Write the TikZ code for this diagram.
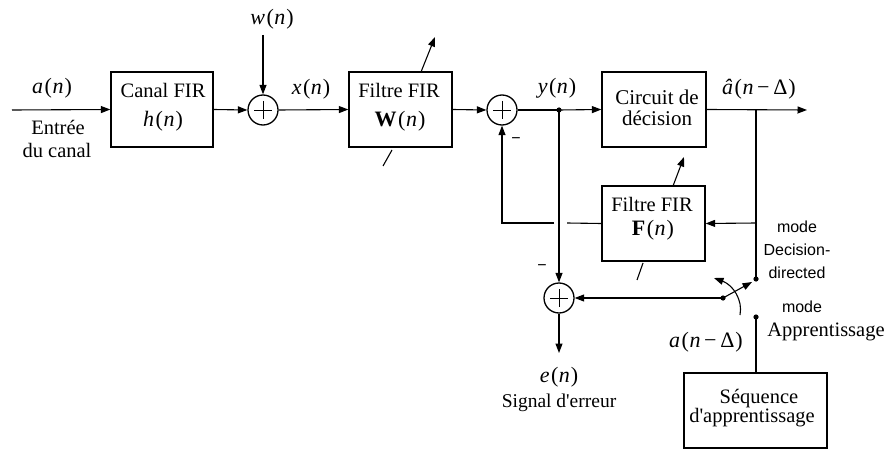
\documentclass[tikz,border=0pt]{standalone}
\usepackage{fontspec}
\setmainfont{Liberation Serif}
\newfontfamily\sansf{Liberation Sans}
\usetikzlibrary{arrows.meta}
\newcommand\vi[1]{\textit{#1}}
\newcommand\pa[1]{\kern1.5pt(\kern0.5pt#1\kern1pt)}
\begin{document}
\begin{tikzpicture}[x=1pt,y=-1pt, line width=1.1pt,
  box/.style={draw, line width=1.3pt, minimum width=#1, minimum height=75pt, inner sep=0pt},
  sumc/.style={draw, circle, minimum size=30pt, inner sep=0pt, line width=1.3pt},
  txt/.style={inner sep=0pt, font=\fontsize{20.5}{22}\selectfont},
  mth/.style={inner sep=0pt, font=\fontsize{22}{24}\selectfont},
  slbl/.style={inner sep=0pt, font=\sansf\fontsize{16}{18}\selectfont},
  >={Triangle[length=9.5pt,width=7pt]}]
\useasboundingbox (0,0) rectangle (893,449);

% boxes
\node[box=102pt] (canal) at (162,109.5) {};
\node[box=103pt] (wbox) at (400.5,109.5) {};
\node[box=104pt] (circ) at (654,109.5) {};
\node[box=103pt] (fbox) at (653.5,223.5) {};
\node[box=143pt] (seq) at (755.5,410.5) {};

% texts in boxes
\node[txt] (canalt1) at (163,90) {Canal FIR};
\node[mth] (canalt2) at (163,121) {\vi{h}\pa{\vi{n}}};
\node[txt] (wt1) at (399,90) {Filtre FIR};
\node[mth] (wt2) at (400,121) {\textbf{W}\pa{\vi{n}}};
\node[txt, font=\fontsize{21}{22}\selectfont] (ct1) at (657,97) {Circuit de};
\node[txt, font=\fontsize{21}{22}\selectfont] (ct2) at (657,118) {décision};
\node[txt] (ft1) at (652,204) {Filtre FIR};
\node[mth] (ft2) at (653,230) {\textbf{F}\pa{\vi{n}}};
\node[txt] (st1) at (759,399) {Séquence};
\node[txt] (st2) at (752,418) {d\textquotesingle apprentissage};

% summers
\node[sumc] (s1) at (263,110) {};
\node[sumc] (s2) at (502,110) {};
\node[sumc] (s3) at (559,298) {};
\foreach \s in {s1,s2,s3}
  \draw[line width=0.8pt] (\s.center) ++(-9,0) -- ++(18,0) (\s.center) ++(0,-9) -- ++(0,18);

% labels
\node[mth] (an) at (52,88) {\vi{a}\pa{\vi{n}}};
\node[txt] (entree) at (58,127) {Entrée};
\node[txt] (ducanal) at (57,150) {du canal};
\node[mth] (wn) at (272,19) {\vi{w}\pa{\vi{n}}};
\node[mth] (xn) at (311,89) {\vi{x}\pa{\vi{n}}};
\node[mth] (yn) at (557,88) {\vi{y}\pa{\vi{n}}};
\node[mth] (ahat) at (759,89) {\vi{â}\pa{\vi{n}\,−\,Δ}};
\node[mth] (en) at (559,377) {\vi{e}\pa{\vi{n}}};
\node[txt, font=\fontsize{19.5}{22}\selectfont] (sig) at (559,403) {Signal d\textquotesingle erreur};
\node[mth] (adel) at (706,342) {\vi{a}\pa{\vi{n}\,−\,Δ}};
\node[slbl] (mode1) at (797,227) {mode};
\node[slbl] (dec1) at (797,250) {Decision-};
\node[slbl] (dir1) at (797,273) {directed};
\node[slbl] (mode2) at (802,307) {mode};
\node[txt] (appr) at (826,332) {Apprentissage};
\node[slbl] (min2) at (516,141) {−};
\node[slbl] (min3) at (542,268) {−};

% coordinates
\coordinate (in) at (12,110);
\coordinate (wtop) at (263,35);
\coordinate (yj) at (559,110);
\coordinate (out) at (807,110);
\coordinate (oj) at (756,110);
\coordinate (fj) at (756,223);
\coordinate (dd) at (756,279);
\coordinate (ap) at (756,317);
\coordinate (piv) at (723,298);
\coordinate (armtip) at (752,282);
\coordinate (eend) at (559,353);
\coordinate (gapR) at (567,223);
\coordinate (gapL) at (554,223);
\coordinate (corner) at (502,223);

% connectors
\draw[->] (in) -- (canal.west);
\draw[->] (canal.east) -- (s1.west);
\draw[->] (wtop) -- (s1.north);
\draw[->] (s1.east) -- (wbox.west);
\draw[->] (wbox.east) -- (s2.west);
\draw (s2.east) -- (yj);
\draw[->] (yj) -- (circ.west);
\draw[->] (circ.east) -- (out);
\draw (oj) -- (dd);
\draw[->] (fj) -- (fbox.east);
\draw (fbox.west) -- (gapR);
\draw[->] (gapL) -- (corner) -- (s2.south);
\draw[->] (yj) -- (s3.north);
\draw[->] (s3.south) -- (eend);
\draw[->] (piv) -- (s3.east);
\draw[->] (piv) -- (armtip);
\draw[->] (740,315) .. controls (743,300) and (733,285) .. (714,278);
\draw (ap) -- (ap |- seq.north);

% adaptation arrows
\draw (383,166) -- (392,150);
\draw[->] (421,72) -- (435,37);
\draw (637,280) -- (643,263);
\draw[->] (673,186) -- (684,157);

% dots
\foreach \p in {yj,dd,ap,piv} \fill (\p) circle (2.6pt);
\end{tikzpicture}
\end{document}
